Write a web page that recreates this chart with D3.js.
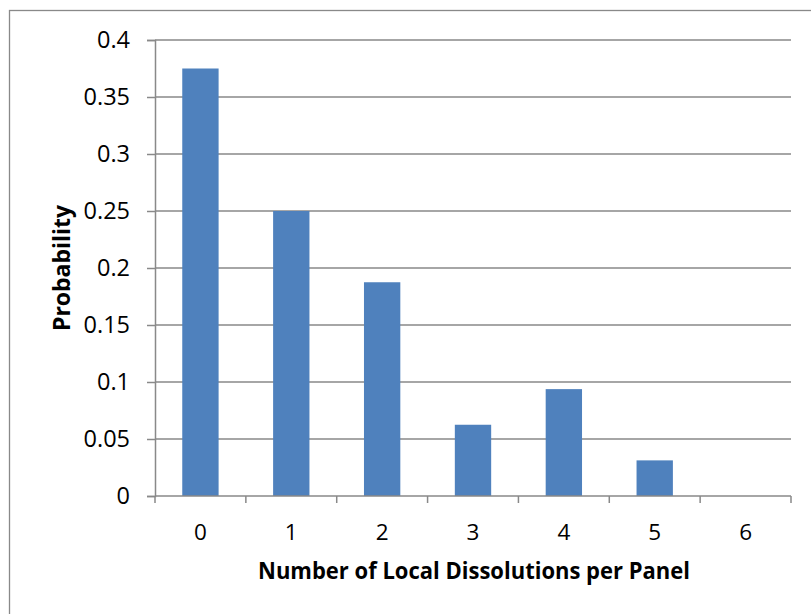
<!DOCTYPE html>
<html>
<head>
<meta charset="utf-8">
<script src="https://cdn.jsdelivr.net/npm/d3@7"></script>
<style>
  html, body { margin: 0; padding: 0; background: #fff; }
  svg { display: block; }
  text { font-family: "Open Sans", "Noto Sans", sans-serif; fill: #000; }
</style>
</head>
<body>
<svg id="chart" width="811" height="614"></svg>
<script>
// Number of local dissolutions per panel and their probabilities
const categories = ["0", "1", "2", "3", "4", "5", "6"];
const probabilities = [0.375, 0.25, 0.1875, 0.0625, 0.09375, 0.03125, 0];
const yTicks = [0, 0.05, 0.1, 0.15, 0.2, 0.25, 0.3, 0.35, 0.4];
const xTitle = "Number of Local Dissolutions per Panel";
const yTitle = "Probability";

const svg = d3.select("#chart");
const plot = { left: 155, right: 791, top: 40, bottom: 496 };
const gridColor = "#898989";
const barColor = "#4F81BD";

// Outer chart-area frame
svg.append("rect")
  .attr("x", 9.5).attr("y", 10.5)
  .attr("width", 830).attr("height", 700)
  .attr("fill", "#fff")
  .attr("stroke", gridColor).attr("stroke-width", 1.3);

const x = d3.scaleBand()
  .domain(categories)
  .range([plot.left, plot.right])
  .paddingInner(0.6)
  .paddingOuter(0.3);

const y = d3.scaleLinear()
  .domain([0, 0.4])
  .range([plot.bottom, plot.top]);

// Horizontal gridlines
svg.append("g")
  .selectAll("line")
  .data(yTicks.filter(t => t > 0))
  .join("line")
  .attr("x1", plot.left).attr("x2", plot.right)
  .attr("y1", d => y(d)).attr("y2", d => y(d))
  .attr("stroke", gridColor).attr("stroke-width", 1.5);

// Bars
svg.append("g")
  .selectAll("rect")
  .data(categories.map((c, i) => ({ c, v: probabilities[i] })))
  .join("rect")
  .attr("x", d => x(d.c))
  .attr("width", x.bandwidth())
  .attr("y", d => y(d.v))
  .attr("height", d => y(0) - y(d.v))
  .attr("fill", barColor);

// Y axis
const yAxis = d3.axisLeft(y)
  .tickValues(yTicks)
  .tickFormat(d => d3.format("")(+d.toFixed(2)))
  .tickSize(8)
  .tickPadding(17);
const gy = svg.append("g")
  .attr("transform", `translate(${plot.left},0)`)
  .call(yAxis);
gy.select(".domain").attr("stroke", gridColor).attr("stroke-width", 1.5);
gy.selectAll(".tick line").attr("stroke", gridColor).attr("stroke-width", 1.5);
gy.selectAll(".tick text")
  .style("font-family", '"Open Sans", "Noto Sans", sans-serif')
  .style("font-size", "23.5px")
  .attr("fill", "#000");

// X axis: ticks sit on the category boundaries
const boundaries = categories.map(c => x(c) - x.step() * x.paddingInner() / 2)
  .concat([plot.right]);
boundaries[0] = plot.left;
const gx = svg.append("g");
gx.append("line")
  .attr("x1", plot.left).attr("x2", plot.right)
  .attr("y1", plot.bottom).attr("y2", plot.bottom)
  .attr("stroke", gridColor).attr("stroke-width", 1.5);
gx.selectAll("line.tick")
  .data(boundaries)
  .join("line")
  .attr("class", "tick")
  .attr("x1", d => d).attr("x2", d => d)
  .attr("y1", plot.bottom).attr("y2", plot.bottom + 7)
  .attr("stroke", gridColor).attr("stroke-width", 1.5);
gx.selectAll("text")
  .data(categories)
  .join("text")
  .attr("x", d => x(d) + x.bandwidth() / 2)
  .attr("y", 540)
  .attr("text-anchor", "middle")
  .style("font-size", "22.5px")
  .text(d => d);

// Axis titles
svg.append("text")
  .attr("x", (258 + 690) / 2)
  .attr("y", 579)
  .attr("text-anchor", "middle")
  .attr("textLength", 432)
  .attr("lengthAdjust", "spacingAndGlyphs")
  .style("font-size", "23px")
  .style("font-weight", "bold")
  .text(xTitle);

svg.append("text")
  .attr("transform", `translate(70,${(plot.top + plot.bottom) / 2}) rotate(-90)`)
  .attr("text-anchor", "middle")
  .attr("textLength", 126)
  .attr("lengthAdjust", "spacingAndGlyphs")
  .style("font-size", "23px")
  .style("font-weight", "bold")
  .text(yTitle);
</script>
</body>
</html>
